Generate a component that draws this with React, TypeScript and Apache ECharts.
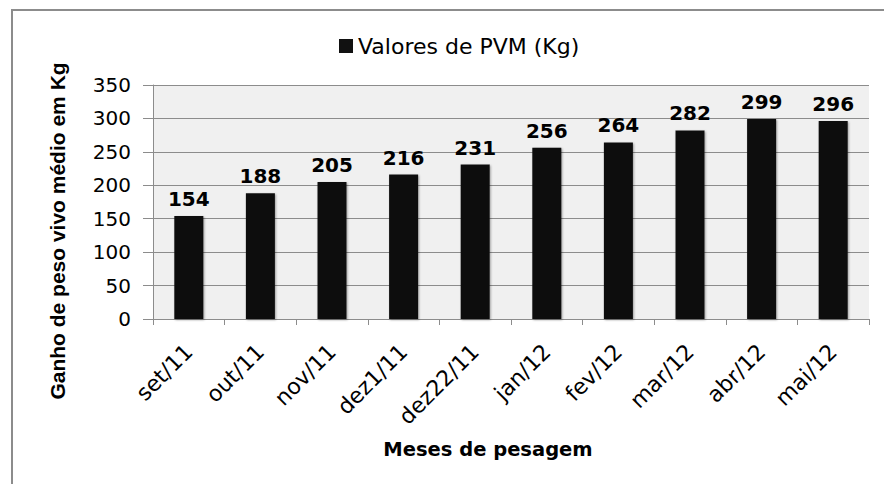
import React, { useEffect, useRef } from "react";
import * as echarts from "echarts";

const categories = ["set/11", "out/11", "nov/11", "dez1/11", "dez22/11", "jan/12", "fev/12", "mar/12", "abr/12", "mai/12"];
const pvmValues = [154, 188, 205, 216, 231, 256, 264, 282, 299, 296];
const seriesName = "Valores de PVM (Kg)";
const yAxisTitle = "Ganho de peso vivo médio em Kg";
const xAxisTitle = "Meses de pesagem";

export default function App() {
  const ref = useRef<HTMLDivElement>(null);
  useEffect(() => {
    if (!ref.current) return;
    const chart = echarts.init(ref.current, null, { renderer: "svg" });
    chart.setOption({
      animation: false,
      backgroundColor: "#ffffff",
      legend: {
        data: [{ name: seriesName, icon: "rect" }],
        left: 334,
        top: 30,
        itemWidth: 14,
        itemHeight: 14,
        itemGap: 5,
        textStyle: { fontFamily: "DejaVu Sans", fontSize: 22, color: "#000" },
      },
      grid: { left: 153, right: 15, top: 85, bottom: 165, show: true, backgroundColor: "#f0f0f0", borderWidth: 0 },
      xAxis: {
        type: "category",
        data: categories,
        axisLine: { show: true, lineStyle: { color: "#8c8c8c", width: 1 } },
        axisTick: { show: true, length: 6, lineStyle: { color: "#8c8c8c" } },
        axisLabel: {
          interval: 0,
          rotate: 45,
          margin: 29,
          fontFamily: "DejaVu Sans",
          fontSize: 22,
          color: "#000",
        },
      },
      yAxis: {
        type: "value",
        min: 0,
        max: 350,
        interval: 50,
        axisLine: { show: true, lineStyle: { color: "#8c8c8c", width: 1 } },
        axisTick: { show: true, length: 10, lineStyle: { color: "#8c8c8c" } },
        splitLine: { show: true, lineStyle: { color: "#8c8c8c", width: 1 } },
        axisLabel: { margin: 22, fontFamily: "DejaVu Sans", fontSize: 20, color: "#000" },
      },
      series: [
        {
          name: seriesName,
          type: "bar",
          data: pvmValues,
          barWidth: 29,
          itemStyle: {
            color: "#111111",
            shadowColor: "rgba(0,0,0,0.35)",
            shadowBlur: 2,
            shadowOffsetX: 1,
            shadowOffsetY: 1,
          },
          label: {
            show: true,
            position: "top",
            distance: 7,
            fontFamily: "DejaVu Sans",
            fontWeight: "bold",
            fontSize: 20,
            color: "#000",
          },
        },
      ],
      graphic: [
        {
          type: "rect",
          shape: { x: 12, y: 10, width: 920, height: 520 },
          style: { fill: "none", stroke: "#8c8c8c", lineWidth: 2 },
          silent: true,
        },
        {
          type: "text",
          x: 57,
          y: 231,
          rotation: Math.PI / 2,
          style: {
            text: yAxisTitle,
            fontFamily: "Liberation Sans",
            fontWeight: "bold",
            fontSize: 21,
            fill: "#000",
            align: "center",
            verticalAlign: "middle",
          },
        },
        {
          type: "text",
          x: 488,
          y: 449,
          style: {
            text: xAxisTitle,
            fontFamily: "DejaVu Sans",
            fontWeight: "bold",
            fontSize: 19.5,
            fill: "#000",
            align: "center",
            verticalAlign: "middle",
          },
        },
      ],
    });
    return () => chart.dispose();
  }, []);
  return <div ref={ref} style={{ position: "absolute", left: 0, top: 0, width: 884, height: 484 }} />;
}
